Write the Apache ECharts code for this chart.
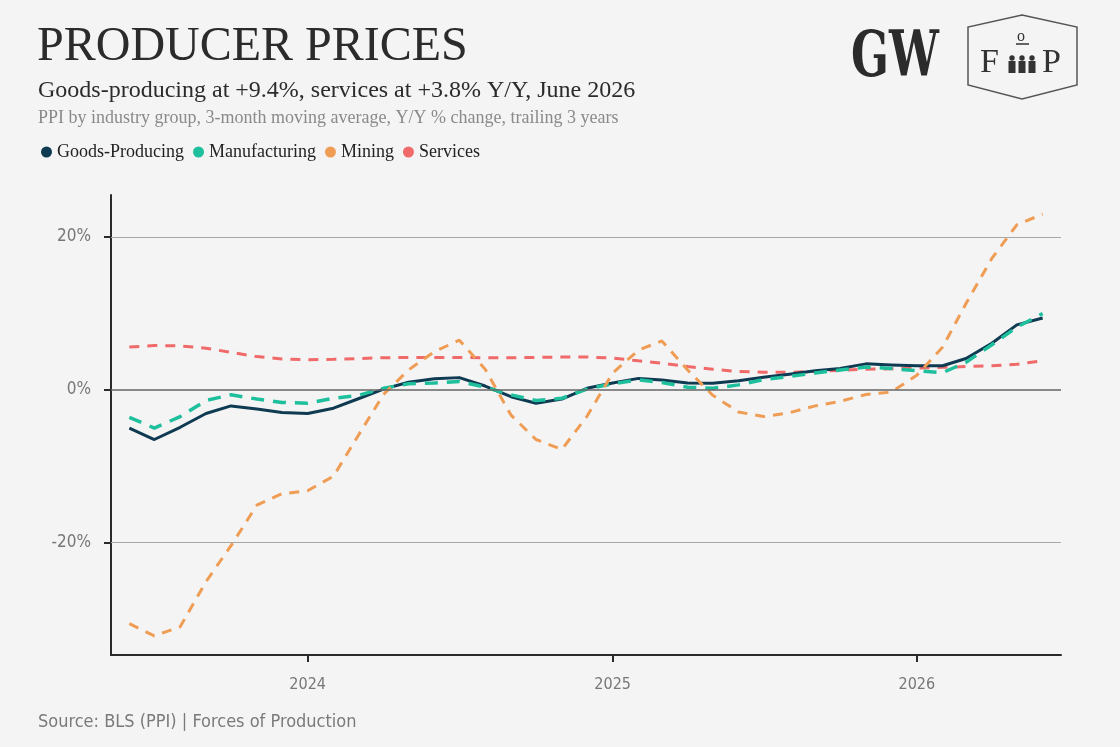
<!DOCTYPE html>
<html>
<head>
<meta charset="utf-8">
<script src="https://cdn.jsdelivr.net/npm/echarts@6/dist/echarts.min.js"></script>
<style>
html,body{margin:0;padding:0;background:#f4f4f4;}
#chart{width:1120px;height:747px;}
</style>
</head>
<body>
<div id="chart"></div>
<script>
const months = [
  '2023-06-01','2023-07-01','2023-08-01','2023-09-01','2023-10-01','2023-11-01','2023-12-01',
  '2024-01-01','2024-02-01','2024-03-01','2024-04-01','2024-05-01','2024-06-01','2024-07-01',
  '2024-08-01','2024-09-01','2024-10-01','2024-11-01','2024-12-01','2025-01-01','2025-02-01',
  '2025-03-01','2025-04-01','2025-05-01','2025-06-01','2025-07-01','2025-08-01','2025-09-01',
  '2025-10-01','2025-11-01','2025-12-01','2026-01-01','2026-02-01','2026-03-01','2026-04-01',
  '2026-05-01','2026-06-01'
];
const goodsProducing = [-5.0,-6.5,-4.9,-3.1,-2.1,-2.5,-2.95,-3.1,-2.4,-1.2,0.1,1.0,1.45,1.6,0.5,-0.9,-1.75,-1.2,0.2,0.9,1.5,1.3,0.9,0.85,1.2,1.65,2.05,2.5,2.8,3.4,3.25,3.15,3.15,4.1,6.1,8.5,9.4];
const manufacturing = [-3.6,-5.0,-3.5,-1.4,-0.65,-1.2,-1.65,-1.75,-1.1,-0.75,0.2,0.8,0.9,1.1,0.35,-0.65,-1.4,-1.1,0.1,0.8,1.3,0.95,0.35,0.2,0.65,1.35,1.75,2.2,2.6,3.0,2.8,2.5,2.25,3.6,5.9,8.2,10.0];
const mining = [-30.6,-32.2,-31.0,-25.1,-20.4,-15.1,-13.6,-13.2,-11.3,-6.1,-0.6,2.6,5.0,6.5,2.7,-3.3,-6.5,-7.8,-3.5,2.2,5.2,6.4,2.6,-0.7,-2.9,-3.5,-3.0,-2.1,-1.5,-0.6,-0.3,1.9,5.6,11.3,17.2,21.6,23.0];
const services = [5.6,5.8,5.75,5.45,4.9,4.35,4.05,3.95,4.0,4.1,4.2,4.25,4.25,4.25,4.2,4.2,4.25,4.3,4.3,4.15,3.8,3.5,3.05,2.7,2.4,2.3,2.3,2.4,2.55,2.7,2.75,2.85,2.95,3.05,3.15,3.35,3.8];
const yTicks = [-20, 0, 20];
const xTickDates = ['2024-01-01','2025-01-01','2026-01-01'];

const seriesNames = ['Goods-Producing','Manufacturing','Mining','Services'];
const colors = {
  'Goods-Producing':'#0e3a52',
  'Manufacturing':'#1ebf9c',
  'Mining':'#ef9c55',
  'Services':'#f06a6a'
};
const ts = d => new Date(d + 'T00:00:00Z').getTime();
const pair = arr => months.map((m,i)=>[ts(m), arr[i]]);
const xTickVals = xTickDates.map(ts);

const chart = echarts.init(document.getElementById('chart'), null, {renderer:'canvas'});
const sansN = '"Liberation Sans Narrow","DejaVu Sans Condensed","Liberation Sans",sans-serif';
const serif = '"Liberation Serif","DejaVu Serif",serif';

const option = {
  backgroundColor:'#f4f4f4',
  animation:false,
  grid:{left:111, right:59, top:195, bottom:92, containLabel:false},
  legend:{
    data:seriesNames,
    left:36, top:138,
    icon:'circle', itemWidth:11, itemHeight:11, itemGap:9,
    textStyle:{fontFamily:serif, fontSize:18, color:'#222'}
  },
  xAxis:{
    type:'value',
    min:ts('2023-05-10'),
    max:ts('2026-06-23'),
    axisLine:{show:true, onZero:false, lineStyle:{color:'#2a2a2a', width:2}},
    axisTick:{show:true, customValues:xTickVals, length:7, lineStyle:{color:'#2a2a2a', width:2}},
    axisLabel:{customValues:xTickVals, margin:22, color:'#777', fontFamily:sansN, fontSize:16,
      formatter:v=>String(new Date(v).getUTCFullYear())},
    splitLine:{show:false}
  },
  yAxis:{
    type:'value',
    min:-34.7, max:25.5,
    axisLine:{show:true, lineStyle:{color:'#2a2a2a', width:2}},
    axisTick:{show:true, customValues:yTicks, length:7, lineStyle:{color:'#2a2a2a', width:2}},
    axisLabel:{customValues:yTicks, margin:20, color:'#777', fontFamily:sansN, fontSize:17,
      formatter:v=>v+'%'},
    splitLine:{show:false}
  },
  series:[
    {
      name:'Services', type:'line', data:pair(services), showSymbol:false, smooth:false,
      color:colors['Services'],
      lineStyle:{width:3, type:[10,8], color:colors['Services']},
      markLine:{
        silent:true, symbol:['none','none'], label:{show:false},
        data:[
          {yAxis:20, lineStyle:{color:'#a8a8a8', width:1, type:'solid'}},
          {yAxis:-20, lineStyle:{color:'#a8a8a8', width:1, type:'solid'}},
          {yAxis:0, lineStyle:{color:'#666', width:1.5, type:'solid'}}
        ]
      }
    },
    {
      name:'Goods-Producing', type:'line', data:pair(goodsProducing), showSymbol:false, smooth:false,
      color:colors['Goods-Producing'],
      lineStyle:{width:3, color:colors['Goods-Producing'], join:'round'}
    },
    {
      name:'Manufacturing', type:'line', data:pair(manufacturing), showSymbol:false, smooth:false,
      color:colors['Manufacturing'],
      lineStyle:{width:3.5, type:[13,9], color:colors['Manufacturing']}
    },
    {
      name:'Mining', type:'line', data:pair(mining), showSymbol:false, smooth:false,
      color:colors['Mining'],
      lineStyle:{width:3, type:[10,8], color:colors['Mining']}
    }
  ],
  graphic:[
    {type:'text', left:37, top:23, style:{text:'PRODUCER PRICES', font:'48px '+serif, fill:'#2b2b2b'}},
    {type:'text', left:38, top:79, style:{text:'Goods-producing at +9.4%, services at +3.8% Y/Y, June 2026', font:'24px '+serif, fill:'#2b2b2b'}},
    {type:'text', left:38, top:109, style:{text:'PPI by industry group, 3-month moving average, Y/Y % change, trailing 3 years', font:'18px '+serif, fill:'#8a8a8a'}},
    {type:'text', left:38, top:713, style:{text:'Source: BLS (PPI) | Forces of Production', font:'18px '+sansN, fill:'#7a7a7a'}},
    {type:'text', x:851, y:28, scaleX:0.74, scaleY:1.05, style:{text:'GW', x:0, y:0, font:'bold 60px "DejaVu Serif",serif', fill:'#2b2b2b'}},
    {type:'polygon', shape:{points:[[1022,15],[1077,27],[1077,85],[1022,99],[968,85],[968,27]]},
      style:{fill:'none', stroke:'#555', lineWidth:1.5}},
    {type:'text', left:980, top:46, style:{text:'F', font:'34px '+serif, fill:'#333'}},
    {type:'text', left:1042, top:46, style:{text:'P', font:'34px '+serif, fill:'#333'}},
    {type:'text', left:1017, top:29, style:{text:'o', font:'16px '+serif, fill:'#333'}},
    {type:'line', shape:{x1:1016,y1:44,x2:1029,y2:44}, style:{stroke:'#333', lineWidth:1.5}},
    {type:'circle', shape:{cx:1012,cy:58,r:2.7}, style:{fill:'#333'}},
    {type:'circle', shape:{cx:1022,cy:58,r:2.7}, style:{fill:'#333'}},
    {type:'circle', shape:{cx:1032,cy:58,r:2.7}, style:{fill:'#333'}},
    {type:'rect', shape:{x:1008.5,y:61,width:7,height:12}, style:{fill:'#333'}},
    {type:'rect', shape:{x:1018.5,y:61,width:7,height:12}, style:{fill:'#333'}},
    {type:'rect', shape:{x:1028.5,y:61,width:7,height:12}, style:{fill:'#333'}}
  ]
};
chart.setOption(option);
</script>
</body>
</html>
